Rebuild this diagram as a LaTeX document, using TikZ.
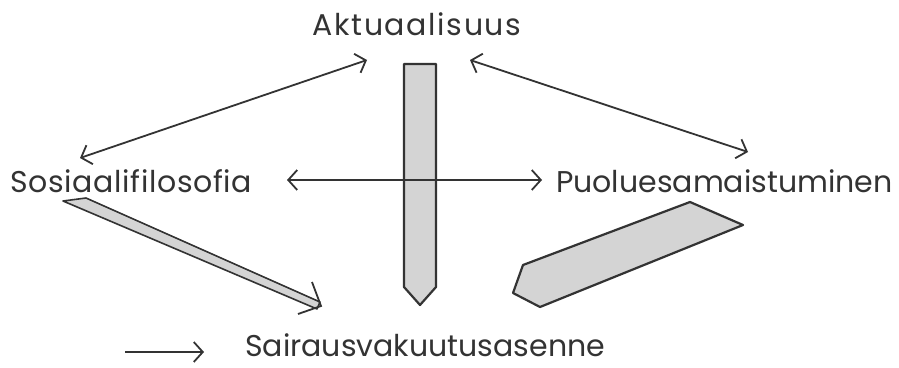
\documentclass[tikz,border=0pt]{standalone}
\usepackage{fontspec}
\setmainfont{Poppins}
\newfontfamily\widesp{Poppins}[LetterSpace=5.5]
\newfontfamily\midsp{Poppins}[LetterSpace=2.2]
\usetikzlibrary{arrows.meta}
\definecolor{ink}{HTML}{333333}
\definecolor{shade}{HTML}{D4D4D4}
\begin{document}
\begin{tikzpicture}[x=1pt,y=-1pt,
  lbl/.style={font=\fontsize{30}{33}\selectfont, text=ink, inner sep=0pt},
  rel/.style={draw=ink, line width=1.8pt, {Straight Barb[length=9,width=20]}-{Straight Barb[length=9,width=20]}},
  oneway/.style={draw=ink, line width=1.8pt, -{Straight Barb[length=9,width=20]}},
  fat/.style={draw=ink, line width=2.2pt, fill=shade, line join=round}]
\useasboundingbox[fill=white] (0,0) rectangle (899,367);

% labels
\node[lbl, anchor=base] (akt) at (417,35) {\widesp Aktuaalisuus};
\node[lbl, anchor=base west] (sos) at (10,192) {\midsp Sosiaalifilosofia};
\node[lbl, anchor=base west] (puo) at (556,192) {Puoluesamaistuminen};
\node[lbl, anchor=base west] (sai) at (245,356) {Sairausvakuutusasenne};

% thick shaded arrows
\draw[fat] (404,64) -- (436,64) -- (436,287) -- (420,305) -- (404,287) -- cycle;
\draw[fat] (690,202) -- (743,225) -- (540,307) -- (513,293) -- (523,265) -- cycle;
\draw[draw=ink, line width=1.6pt, fill=shade, line join=round]
  (63,201) -- (86,198) -- (320,302) -- (317,309) -- cycle;
\draw[draw=ink, line width=1.8pt] (312,282) -- (321,306) -- (298,314);

% endpoints
\coordinate (akt-sw) at (367,60);
\coordinate (akt-se) at (470,60);
\coordinate (sos-n) at (80,158);
\coordinate (sos-e) at (287,180);
\coordinate (puo-w) at (542,180);
\coordinate (puo-n) at (748,152);
\coordinate (leg-a) at (125,352);
\coordinate (leg-b) at (204,352);

% relation arrows
\draw[rel] (sos-n) -- (akt-sw);
\draw[rel] (akt-se) -- (puo-n);
\draw[rel] (sos-e) -- (puo-w);
\draw[oneway] (leg-a) -- (leg-b);
\end{tikzpicture}
\end{document}
